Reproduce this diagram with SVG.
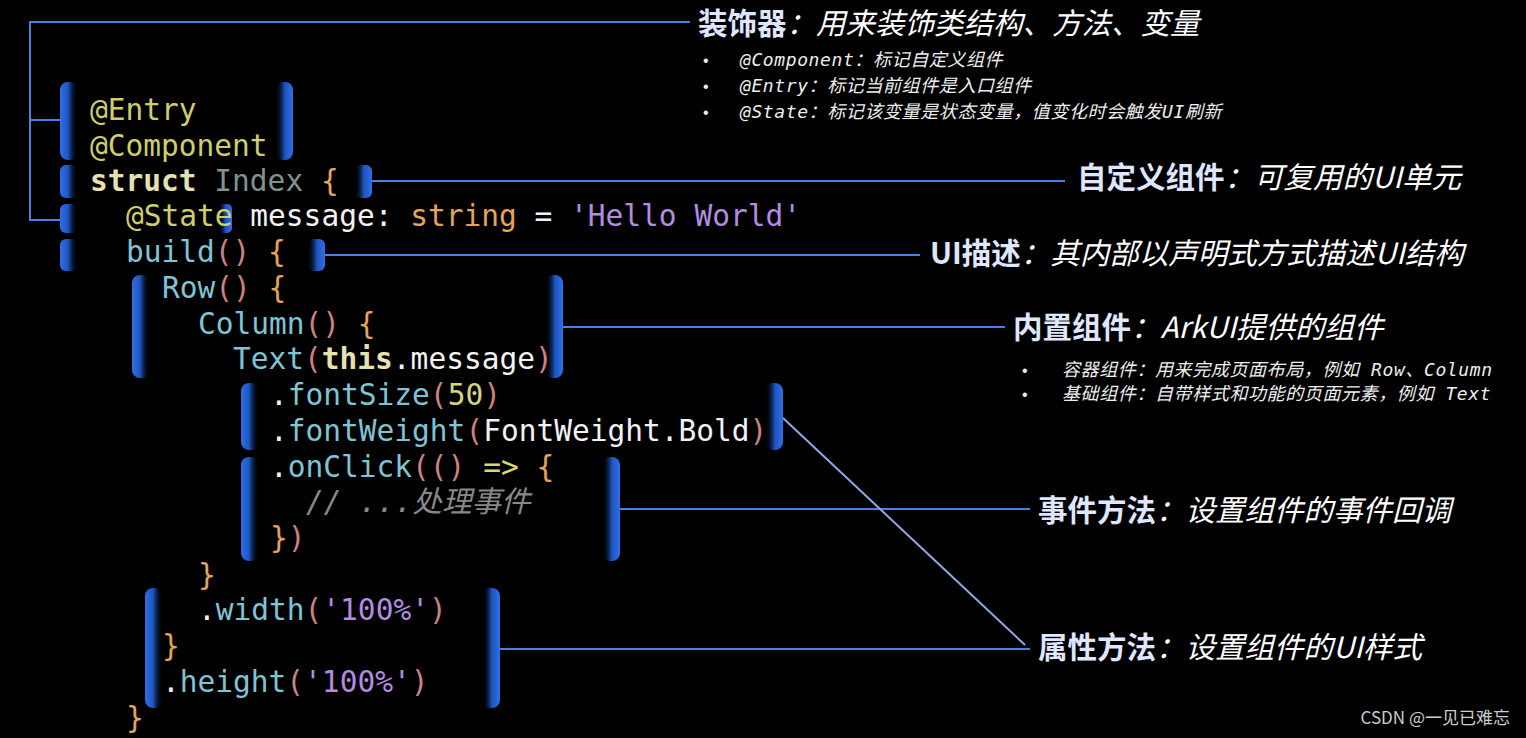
<svg xmlns="http://www.w3.org/2000/svg" width="1526" height="738" viewBox="0 0 1526 738">
<defs>
<linearGradient id="gl" x1="0" y1="0" x2="1" y2="0"><stop offset="0" stop-color="#2f6fe6"/><stop offset="0.45" stop-color="#1e55c0"/><stop offset="1" stop-color="#000" stop-opacity="0"/></linearGradient>
<linearGradient id="gr" x1="1" y1="0" x2="0" y2="0"><stop offset="0" stop-color="#2f6fe6"/><stop offset="0.45" stop-color="#1e55c0"/><stop offset="1" stop-color="#000" stop-opacity="0"/></linearGradient>
<linearGradient id="ln" x1="0" y1="0" x2="1" y2="0"><stop offset="0" stop-color="#3a6fe0"/><stop offset="1" stop-color="#c8d6f5"/></linearGradient>
</defs>
<style>
.c{font-family:"DejaVu Sans Mono","Liberation Mono",monospace;font-size:29.5px}
.y{fill:#cfcf6a}.k{fill:#e6e2b0;font-weight:bold}.g{fill:#7f958c}.o{fill:#e6a35a}.w{fill:#f2f2f2}.t{fill:#7fc4d4}.s{fill:#b38be0}.p{fill:#d08080}.n{fill:#d6d67a}.cm{fill:#888;font-style:italic}
.bl{fill:url(#gl)}.br{fill:url(#gr)}
.h{font-family:"Noto Sans CJK SC",sans-serif;font-size:29.5px;fill:#fff;font-style:italic}
.hb{font-weight:bold;font-style:normal;fill:#dfe6ff}
.sm{font-family:"DejaVu Sans Mono","Noto Sans CJK SC",monospace;font-size:18px;fill:#eee;font-style:italic;letter-spacing:0.6px}
.bu{font-family:"Liberation Sans",sans-serif;font-size:16px;fill:#eee}
.cn{stroke:#4a7fe8;stroke-width:2;fill:none}
</style>
<rect width="1526" height="738" fill="#000"/>
<g id="connectors">
<path class="cn" d="M690 22H30V220H60M30 120H60"/>
<path class="cn" d="M372 181H1065"/>
<path class="cn" d="M325 255H920"/>
<path class="cn" d="M563 327H1005"/>
<path class="cn" d="M620 509H1030"/>
<path class="cn" d="M500 649H1030"/>
<path d="M783 418L1025 645" stroke="#8fa8e8" stroke-width="2"/>
</g>
<g id="brackets">
<rect class="bl" x="60" y="82" width="18" height="78" rx="8"/><rect class="br" x="275" y="82" width="18" height="78" rx="8"/>
<rect class="bl" x="60" y="165" width="18" height="33" rx="6"/><rect class="br" x="354" y="165" width="18" height="33" rx="6"/>
<rect class="bl" x="60" y="204" width="18" height="29" rx="6"/><rect class="br" x="218" y="204" width="14" height="29" rx="5"/>
<rect class="bl" x="60" y="239" width="18" height="32" rx="6"/><rect class="br" x="307" y="239" width="18" height="32" rx="6"/>
<rect class="bl" x="132" y="275" width="18" height="103" rx="8"/><rect class="br" x="545" y="275" width="18" height="103" rx="8"/>
<rect class="bl" x="241" y="383" width="18" height="67" rx="8"/><rect class="br" x="765" y="383" width="18" height="67" rx="8"/>
<rect class="bl" x="241" y="457" width="18" height="104" rx="8"/><rect class="br" x="602" y="457" width="18" height="104" rx="8"/>
<rect class="bl" x="145" y="588" width="18" height="120" rx="8"/><rect class="br" x="482" y="588" width="18" height="120" rx="8"/>
</g>
<g id="code" class="c">
<text x="90" y="120" class="y">@Entry</text>
<text x="90" y="156" class="y">@Component</text>
<text x="90" y="191"><tspan class="k">struct</tspan><tspan class="g"> Index </tspan><tspan class="o">{</tspan></text>
<text x="126" y="226"><tspan class="y">@State</tspan><tspan class="w"> message: </tspan><tspan class="o">string</tspan><tspan class="w"> = </tspan><tspan class="s">'Hello World'</tspan></text>
<text x="126" y="262"><tspan class="t">build</tspan><tspan class="p">()</tspan><tspan class="o"> {</tspan></text>
<text x="162" y="298"><tspan class="t">Row</tspan><tspan class="p">()</tspan><tspan class="o"> {</tspan></text>
<text x="198" y="334"><tspan class="t">Column</tspan><tspan class="p">()</tspan><tspan class="o"> {</tspan></text>
<text x="233" y="369"><tspan class="t">Text</tspan><tspan class="p">(</tspan><tspan class="k">this</tspan><tspan class="w">.message</tspan><tspan class="p">)</tspan></text>
<text x="270" y="405"><tspan class="w">.</tspan><tspan class="t">fontSize</tspan><tspan class="p">(</tspan><tspan class="n">50</tspan><tspan class="p">)</tspan></text>
<text x="270" y="441"><tspan class="w">.</tspan><tspan class="t">fontWeight</tspan><tspan class="p">(</tspan><tspan class="w">FontWeight.Bold</tspan><tspan class="p">)</tspan></text>
<text x="270" y="477"><tspan class="w">.</tspan><tspan class="t">onClick</tspan><tspan class="p">(()</tspan><tspan class="n"> =&gt; </tspan><tspan class="o">{</tspan></text>
<text x="306" y="512" class="cm">// ...<tspan font-family="Noto Sans CJK SC">处理事件</tspan></text>
<text x="270" y="548"><tspan class="o">}</tspan><tspan class="p">)</tspan></text>
<text x="198" y="585" class="o">}</text>
<text x="198" y="620"><tspan class="w">.</tspan><tspan class="t">width</tspan><tspan class="p">(</tspan><tspan class="s">'100%'</tspan><tspan class="p">)</tspan></text>
<text x="162" y="656" class="o">}</text>
<text x="162" y="692"><tspan class="w">.</tspan><tspan class="t">height</tspan><tspan class="p">(</tspan><tspan class="s">'100%'</tspan><tspan class="p">)</tspan></text>
<text x="126" y="728" class="o">}</text>
</g>
<g id="label-decorator">
<text x="698" y="34" class="h"><tspan class="hb">装饰器</tspan>：用来装饰类结构、方法、变量</text>
<text x="703" y="66" class="bu">•</text><text x="740" y="66" class="sm">@Component：标记自定义组件</text>
<text x="703" y="92" class="bu">•</text><text x="740" y="92" class="sm">@Entry：标记当前组件是入口组件</text>
<text x="703" y="118" class="bu">•</text><text x="740" y="118" class="sm">@State：标记该变量是状态变量，值变化时会触发UI刷新</text>
</g>
<g id="label-custom"><text x="1077" y="188" class="h"><tspan class="hb">自定义组件</tspan>：可复用的UI单元</text></g>
<g id="label-ui"><text x="930" y="264" class="h"><tspan class="hb">UI描述</tspan>：其内部以声明式方式描述UI结构</text></g>
<g id="label-builtin">
<text x="1013" y="338" class="h"><tspan class="hb">内置组件</tspan>：ArkUI提供的组件</text>
<text x="1022" y="376" class="bu">•</text><text x="1062" y="376" class="sm" font-size="17" letter-spacing="0.3">容器组件：用来完成页面布局，例如 Row、Column</text>
<text x="1022" y="400" class="bu">•</text><text x="1062" y="400" class="sm" font-size="17" letter-spacing="0.3">基础组件：自带样式和功能的页面元素，例如 Text</text>
</g>
<g id="label-event"><text x="1038" y="521" class="h"><tspan class="hb">事件方法</tspan>：设置组件的事件回调</text></g>
<g id="label-attr"><text x="1038" y="658" class="h"><tspan class="hb">属性方法</tspan>：设置组件的UI样式</text></g>
<text x="1510" y="724" text-anchor="end" font-family="Noto Sans CJK SC,sans-serif" font-size="17" fill="#ccc">CSDN @一见已难忘</text>
</svg>
